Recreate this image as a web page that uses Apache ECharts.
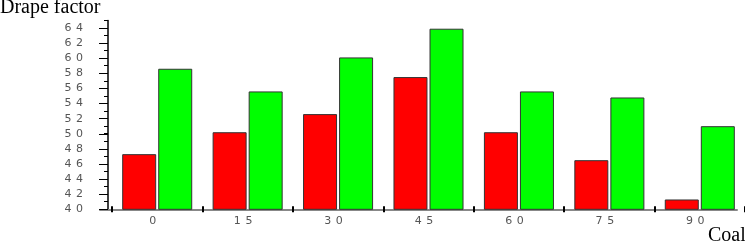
<!DOCTYPE html>
<html>
<head>
<meta charset="utf-8">
<script src="https://cdn.jsdelivr.net/npm/echarts@6/dist/echarts.min.js"></script>
<style>html,body{margin:0;padding:0;background:#fff}#c{width:745px;height:245px}</style>
</head>
<body>
<div id="c"></div>
<script>
const categories = [0, 15, 30, 45, 60, 75, 90];
const seriesRed = [47.3, 50.2, 52.6, 57.5, 50.2, 46.5, 41.3];
const seriesGreen = [58.6, 55.6, 60.1, 63.9, 55.6, 54.8, 51.0];
const yTicks = [40, 42, 44, 46, 48, 50, 52, 54, 56, 58, 60, 62, 64];
const yTitle = 'Drape factor';
const xTitle = 'Coal';

const spaced = v => String(v).split('').join(' \u200A');
const labelFont = {fontFamily: 'DejaVu Sans', fontSize: 11, color: '#555'};

const chart = echarts.init(document.getElementById('c'), null, {renderer: 'canvas'});
chart.setOption({
  animation: false,
  backgroundColor: '#fff',
  grid: [
    {left: 112, right: -2, top: 20.4, bottom: 35.7},
    {left: 100, right: 8, top: 28, bottom: 35.7}
  ],
  xAxis: [
    {type: 'category', gridIndex: 0, position: 'bottom', data: categories.map(String),
     axisLine: {show: false},
     axisTick: {show: true, length: 3, lineStyle: {color: '#000', width: 2}},
     axisLabel: Object.assign({margin: 6, padding: [0, 9, 0, 0], formatter: v => spaced(v)}, labelFont),
     splitLine: {show: false}},
    {type: 'category', gridIndex: 0, position: 'bottom', data: categories.map(String),
     axisLine: {show: false},
     axisTick: {show: true, inside: true, length: 3, lineStyle: {color: '#000', width: 2}},
     axisLabel: {show: false}, splitLine: {show: false}},
    {type: 'value', gridIndex: 1, position: 'bottom', min: 0, max: 1,
     axisLine: {show: true, lineStyle: {color: '#888', width: 2}},
     axisTick: {show: false}, axisLabel: {show: false}, splitLine: {show: false}}
  ],
  yAxis: [
    {type: 'value', gridIndex: 0, min: 40, max: 65, interval: 1, offset: 4,
     axisLine: {show: true, lineStyle: {color: '#000', width: 1.5}},
     axisTick: {show: true, length: 4, lineStyle: {color: '#000', width: 1}},
     axisLabel: {show: false}, splitLine: {show: false}},
    {type: 'value', gridIndex: 1, min: yTicks[0], max: yTicks[yTicks.length - 1], interval: 2, offset: -8,
     axisLine: {show: false},
     axisTick: {show: true, length: 9, lineStyle: {color: '#000', width: 1}},
     axisLabel: Object.assign({margin: 25, formatter: v => spaced(v)}, labelFont),
     splitLine: {show: false}}
  ],
  series: [
    {type: 'bar', xAxisIndex: 0, yAxisIndex: 0, data: seriesRed, barWidth: 34, barGap: '6%',
     itemStyle: {color: '#ff0000', borderColor: '#333', borderWidth: 1}},
    {type: 'bar', xAxisIndex: 0, yAxisIndex: 0, data: seriesGreen, barWidth: 34, barGap: '6%',
     itemStyle: {color: '#00ff00', borderColor: '#333', borderWidth: 1}}
  ],
  graphic: [
    {type: 'text', left: 0, top: -2, style: {text: yTitle, fontFamily: 'Liberation Serif', fontSize: 20, fill: '#000'}},
    {type: 'text', x: 708, y: 226, style: {text: xTitle, fontFamily: 'Liberation Serif', fontSize: 20, fill: '#000'}}
  ]
});
</script>
</body>
</html>
